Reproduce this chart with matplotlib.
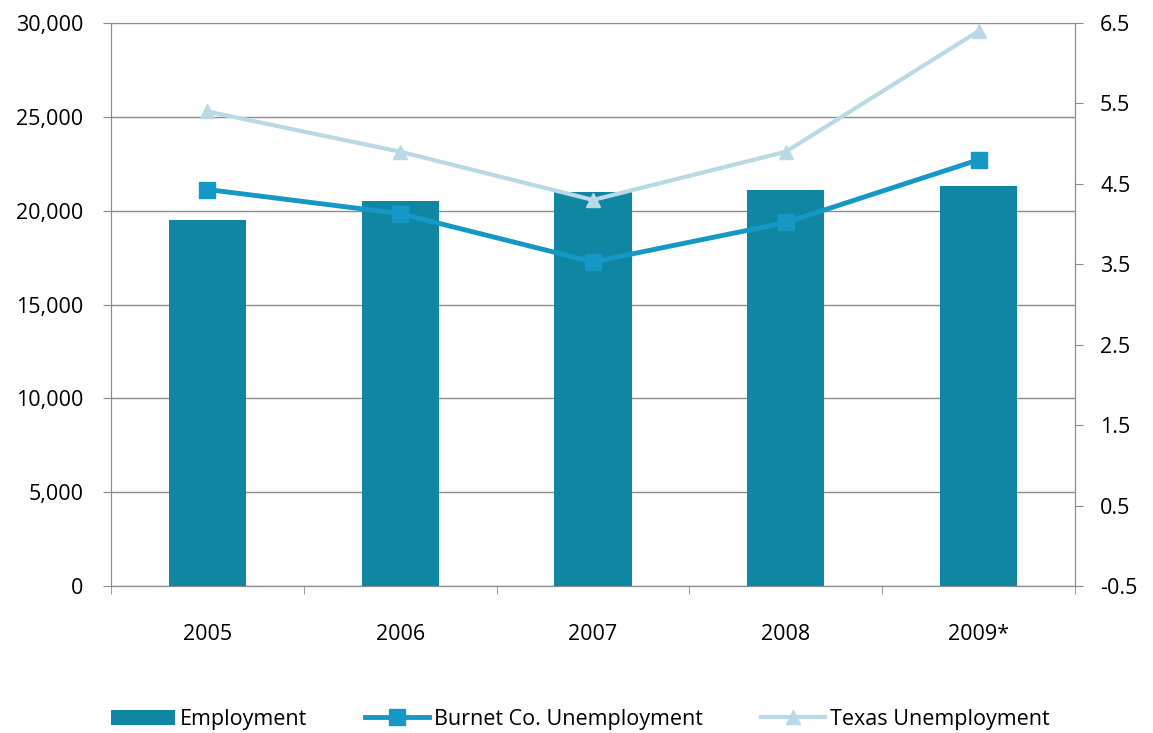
import matplotlib
matplotlib.use("Agg")
import matplotlib.pyplot as plt
from matplotlib.ticker import FuncFormatter, FixedLocator
import numpy as np

years = ["2005", "2006", "2007", "2008", "2009*"]
employment = [19500, 20500, 21000, 21100, 21300]
burnet_unemp = [4.43, 4.13, 3.53, 4.02, 4.8]
texas_unemp = [5.4, 4.9, 4.3, 4.9, 6.4]

plt.rcParams['font.family'] = ['Open Sans', 'DejaVu Sans']

fig = plt.figure(figsize=(11.53, 7.33), dpi=100)
ax = fig.add_axes([0.0963, 0.2005, 0.9324 - 0.0963, 0.9686 - 0.2005])
x = np.arange(len(years))
bar_color = "#0f87a2"
ax.bar(x, employment, width=0.4, color=bar_color, zorder=2, label="Employment")
ax.set_xlim(-0.5, len(years) - 0.5)
ax.set_ylim(0, 30000)
ax.set_yticks(np.arange(0, 30001, 5000))
ax.yaxis.set_major_formatter(FuncFormatter(lambda v, p: f"{int(v):,}"))
ax.grid(axis="y", color="#8c8c8c", linewidth=1.0, zorder=0)
ax.set_axisbelow(True)
ax.set_xticks(x)
ax.set_xticklabels(years)
ax.xaxis.set_minor_locator(FixedLocator(np.arange(-0.5, len(years), 1.0)))
ax.tick_params(axis="x", which="major", length=0, pad=27, labelsize=15.5)
ax.tick_params(axis="x", which="minor", length=6, color="#8c8c8c", direction="out")
ax.tick_params(axis="y", length=6, color="#8c8c8c", labelsize=15.5, pad=14)
ax.spines["top"].set_visible(False)
for s in ["left", "bottom", "right"]:
    ax.spines[s].set_color("#8c8c8c")

ax2 = ax.twinx()
ax2.set_ylim(-0.5, 6.5)
ax2.set_yticks(np.arange(-0.5, 6.6, 1.0))
ax2.yaxis.set_major_formatter(FuncFormatter(lambda v, p: f"{v:.1f}"))
ax2.tick_params(axis="y", length=6, color="#8c8c8c", labelsize=15.5, pad=12)
ax2.spines["top"].set_visible(False)
for s in ["left", "bottom", "right"]:
    ax2.spines[s].set_color("#8c8c8c")
ax2.plot(x, texas_unemp, color="#b9d9e5", linewidth=3, marker="^", markersize=10,
         label="Texas Unemployment", zorder=3)
ax2.plot(x, burnet_unemp, color="#1598c6", linewidth=3.5, marker="s", markersize=12,
         label="Burnet Co. Unemployment", zorder=4)

h1, l1 = ax.get_legend_handles_labels()
h2, l2 = ax2.get_legend_handles_labels()
handles = [h1[0], h2[1], h2[0]]
labels = [l1[0], l2[1], l2[0]]
fig.legend(handles, labels, loc="center", bbox_to_anchor=(0.503, 0.019), ncol=3,
           frameon=False, fontsize=15.5, columnspacing=2.7, handlelength=3.0,
           handletextpad=0.2)

fig.savefig("out.png", dpi=100)
